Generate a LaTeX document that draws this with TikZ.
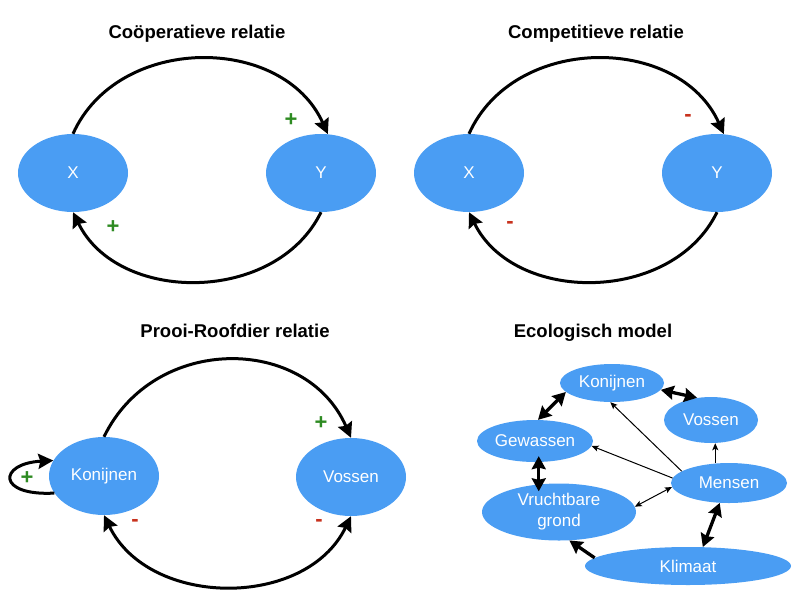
\documentclass[tikz,border=0pt]{standalone}
\usepackage{fontspec}
\setmainfont{Liberation Sans}
\usetikzlibrary{arrows.meta,shapes.geometric}
\definecolor{nodeblue}{HTML}{4A9DF3}
\definecolor{plusgreen}{HTML}{2E8B22}
\definecolor{minusred}{HTML}{C8321E}
\begin{document}
\begin{tikzpicture}[x=1pt,y=-1pt,
  ell/.style={ellipse, fill=nodeblue, draw=none, text=white, inner sep=0pt,
    font=\fontsize{17}{21}\selectfont, align=center},
  ttl/.style={font=\bfseries\fontsize{18.5}{21}\selectfont, anchor=base},
  plussign/.style={text=plusgreen, font=\bfseries\fontsize{22}{24}\selectfont, inner sep=0pt},
  minussign/.style={text=minusred, font=\bfseries\fontsize{22}{24}\selectfont, inner sep=0pt},
  big/.style={line width=3pt, -{Stealth[length=15pt,width=15pt,inset=2pt]}},
  bigboth/.style={line width=3pt, {Stealth[length=15pt,width=15pt,inset=2pt]}-{Stealth[length=15pt,width=15pt,inset=2pt]}},
  thin/.style={line width=1pt, -{Stealth[length=7pt,width=6pt,inset=1.5pt]}},
  thinboth/.style={line width=1pt, {Stealth[length=7pt,width=6pt,inset=1.5pt]}-{Stealth[length=7pt,width=6pt,inset=1.5pt]}},
  thick/.style={line width=3.3pt, -{Stealth[length=13pt,width=14pt,inset=1.5pt]}},
  thickboth/.style={line width=3.3pt, {Stealth[length=13pt,width=14pt,inset=1.5pt]}-{Stealth[length=13pt,width=14pt,inset=1.5pt]}}
]
\useasboundingbox (0,0) rectangle (800,600);

% Titles
\node[ttl] (t1) at (197,38) {Coöperatieve relatie};
\node[ttl] (t2) at (596,38) {Competitieve relatie};
\node[ttl] (t3) at (235,337) {Prooi-Roofdier relatie};
\node[ttl] (t4) at (593,337) {Ecologisch model};

% Panel 1
\node[ell, minimum width=110pt, minimum height=78pt] (x1) at (73,173) {X};
\node[ell, minimum width=110pt, minimum height=78pt] (y1) at (321,173) {Y};
\draw[big] (x1.north) .. controls +(45,-100) and +(-45,-100) .. (y1.80);
\draw[big] (y1.south) .. controls +(-45,92) and +(45,92) .. (x1.south);
\node[plussign] (p1a) at (291,120) {+};
\node[plussign] (p1b) at (113,227) {+};

% Panel 2
\node[ell, minimum width=110pt, minimum height=78pt] (x2) at (469,173) {X};
\node[ell, minimum width=110pt, minimum height=78pt] (y2) at (717,173) {Y};
\draw[big] (x2.north) .. controls +(45,-100) and +(-45,-100) .. (y2.80);
\draw[big] (y2.south) .. controls +(-45,92) and +(45,92) .. (x2.south);
\node[minussign] (m2a) at (688,118) {-};
\node[minussign] (m2b) at (510,225) {-};

% Panel 3
\node[ell, minimum width=110pt, minimum height=78pt] (k3) at (104,476) {Konijnen};
\node[ell, minimum width=110pt, minimum height=78pt] (v3) at (351,477) {Vossen};
\draw[big] (k3.north) .. controls +(50,-103) and +(-45,-103) .. (v3.north);
\draw[bigboth] (v3.south) .. controls +(-45,93) and +(45,93) .. (k3.south);
\draw[big] (k3.199) .. controls +(-58,3) and +(-55,3) .. (k3.163);
\node[plussign] (p3a) at (321,423) {+};
\node[plussign] (p3b) at (27,478) {+};
\node[minussign] (m3a) at (135,523) {-};
\node[minussign] (m3b) at (319,523) {-};

% Panel 4
\node[ell, minimum width=104pt, minimum height=38pt] (kon) at (612,383) {Konijnen};
\node[ell, minimum width=94pt, minimum height=46pt] (vos) at (711,420) {Vossen};
\node[ell, minimum width=116pt, minimum height=42pt] (gew) at (535,441) {Gewassen};
\node[ell, minimum width=116pt, minimum height=40pt] (men) at (729,483) {Mensen};
\node[ell, minimum width=154pt, minimum height=57pt] (vru) at (559,512) {Vruchtbare\\grond};
\node[ell, minimum width=206pt, minimum height=38pt] (kli) at (688,566) {Klimaat};

\draw[thickboth] (kon.191) -- (gew.82);
\draw[thickboth] (kon.352) -- (vos.122);
\draw[thickboth, shorten <=-6pt, shorten >=-8pt] (gew.-80) -- (gew.-80 |- vru.north);
\draw[thin] (men.166) -- (kon.-95);
\draw[thin] (men.175) -- (gew.-5);
\draw[thin] (men.125) -- (men.125 |- vos.south);
\draw[thinboth] (men.184) -- (vru.4);
\draw[thickboth] (men.245) -- (kli.52);
\draw[thick] (kli.175) -- (vru.290);
\end{tikzpicture}
\end{document}
